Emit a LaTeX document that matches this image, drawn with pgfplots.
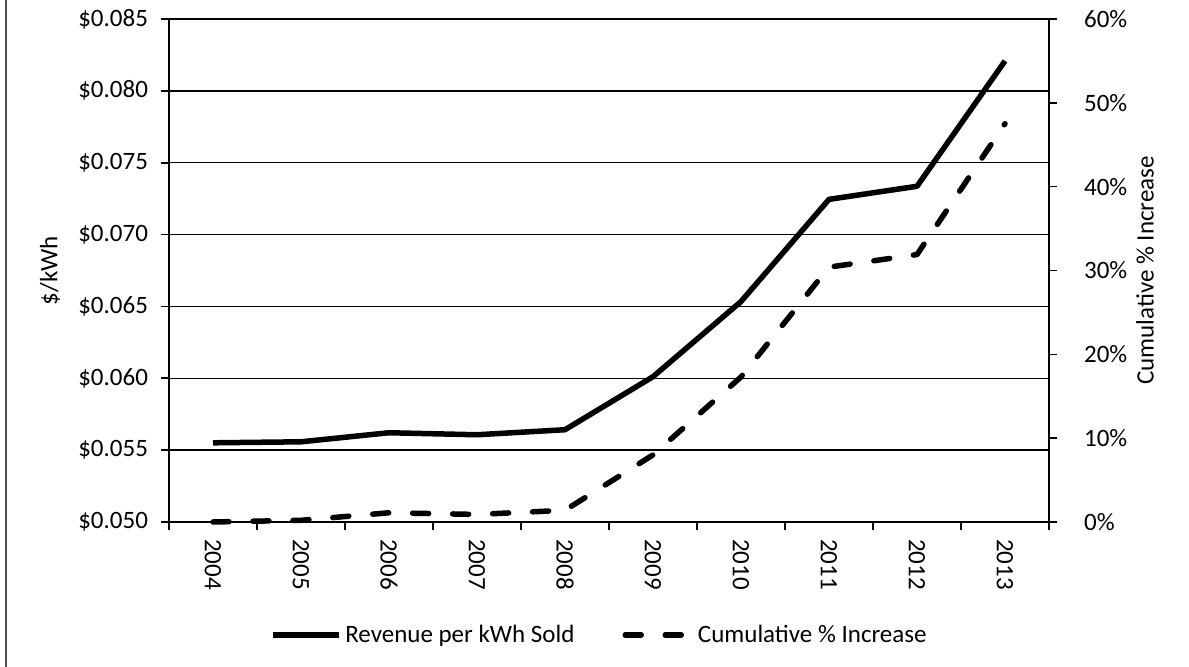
\documentclass[border=0pt]{standalone}
\usepackage{fontspec}
\setmainfont{Carlito}
\usepackage{pgfplots}
\pgfplotsset{compat=1.18}

\begin{document}
\begin{tikzpicture}
\path[use as bounding box] (-84.5pt,-72.5pt) rectangle (510pt,261pt);
\draw[black!70, line width=0.8pt] (-81.5pt,-72.5pt) -- (-81.5pt,261pt);
\begin{axis}[
  at={(0pt,0pt)}, anchor=south west,
  scale only axis, width=440pt, height=251.5pt,
  xmin=-0.5, xmax=9.5, ymin=0.050, ymax=0.085,
  scaled y ticks=false,
  axis x line*=bottom, axis y line*=left,
  axis line style={black, line width=1pt, -},
  font=\fontsize{12.5}{14}\selectfont,
  tick align=outside, major tick length=4pt,
  tick style={black, line width=0.8pt},
  xtick={-0.5,0.5,1.5,2.5,3.5,4.5,5.5,6.5,7.5,8.5,9.5},
  xticklabels={},
  extra x ticks={0,1,2,3,4,5,6,7,8,9},
  extra x tick labels={2004,2005,2006,2007,2008,2009,2010,2011,2012,2013},
  extra x tick style={major tick length=0pt, grid=none,
    tick label style={rotate=-90, anchor=west, xshift=5pt}},
  ytick={0.050,0.055,0.060,0.065,0.070,0.075,0.080,0.085},
  yticklabels={\$0.050,\$0.055,\$0.060,\$0.065,\$0.070,\$0.075,\$0.080,\$0.085},
  y tick label style={xshift=-3pt},
  ymajorgrids, major grid style={black, line width=0.75pt},
  ylabel={\$/kWh},
  ylabel style={at={(axis description cs:-0.1352,0.5)}, anchor=center},
  legend style={at={(axis description cs:0.49,-0.2247)}, anchor=center,
    draw=none, fill=none, legend columns=2,
    /tikz/every even column/.append style={column sep=22pt},
    font=\fontsize{12.5}{14}\selectfont},
  legend image code/.code={\draw[#1] (0pt,0pt) -- (33pt,0pt);},
  clip=false,
]
\addplot[black, line width=2.75pt, line join=round] coordinates {
  (0,0.05551) (1,0.05558) (2,0.05621) (3,0.05607) (4,0.05642)
  (5,0.06011) (6,0.06534) (7,0.07245) (8,0.07336) (9,0.08208)};
\addlegendentry{Revenue per kWh Sold}
\addlegendimage{black, line width=2.75pt, line cap=round, dash pattern=on 8pt off 12pt}
\addlegendentry{Cumulative \% Increase}
\end{axis}
\begin{axis}[
  at={(0pt,0pt)}, anchor=south west,
  scale only axis, width=440pt, height=251.5pt,
  xmin=-0.5, xmax=9.5, ymin=0, ymax=60,
  axis x line=none, axis y line*=right,
  axis line style={black, line width=1pt, -},
  font=\fontsize{12.5}{14}\selectfont,
  tick align=outside, major tick length=4pt,
  tick style={black, line width=0.8pt},
  ytick={0,10,20,30,40,50,60},
  yticklabels={0\%,10\%,20\%,30\%,40\%,50\%,60\%},
  y tick label style={xshift=10pt},
  ylabel={Cumulative \% Increase},
  ylabel style={at={(axis description cs:1.109,0.5)}, anchor=center},
  clip=false,
]
\addplot[black, line width=2.75pt, line cap=round, line join=round, dash pattern=on 8pt off 12pt] coordinates {
  (0,0) (1,0.2) (2,1.1) (3,0.9) (4,1.4)
  (5,8.0) (6,17.3) (7,30.4) (8,31.9) (9,47.5)};
\end{axis}
\end{tikzpicture}
\end{document}
